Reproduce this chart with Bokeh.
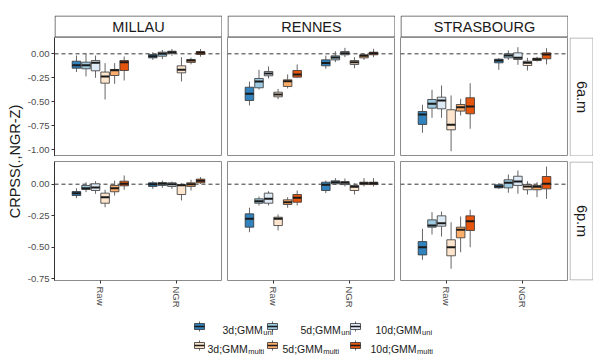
import math
from bokeh.plotting import figure
from bokeh.models import Range1d, FixedTicker, NumeralTickFormatter, Span, Spacer
from bokeh.layouts import row, column
from bokeh.embed import file_html
from bokeh.resources import INLINE
from bokeh.core.properties import value

FONT = "Liberation Sans"

# ---------------- data ----------------
stations = ["MILLAU", "RENNES", "STRASBOURG"]
times = ["6a.m", "6p.m"]
methods = ["Raw", "NGR"]
model_main = ["3d;GMM", "5d;GMM", "10d;GMM", "3d;GMM", "5d;GMM", "10d;GMM"]
model_sub = ["uni", "uni", "uni", "multi", "multi", "multi"]
colors = ["#3182BD", "#9ECAE1", "#DEEBF7", "#FEE6CE", "#FDAE6B", "#E6550D"]

# each list: 6 models for Raw, then 6 models for NGR
millau_am_lower = [-0.19, -0.236, -0.25, -0.476, -0.313, -0.278, -0.063, -0.055, -0.02, -0.288, -0.11, -0.03]
millau_am_q1 = [-0.15, -0.156, -0.177, -0.306, -0.226, -0.174, -0.042, -0.025, 0.006, -0.198, -0.09, -0.007]
millau_am_med = [-0.12, -0.12, -0.094, -0.236, -0.17, -0.087, -0.026, 0.0, 0.017, -0.167, -0.07, 0.01]
millau_am_q3 = [-0.077, -0.087, -0.07, -0.19, -0.163, -0.07, -0.007, 0.017, 0.027, -0.125, -0.059, 0.024]
millau_am_upper = [-0.018, 0.0, -0.018, -0.097, -0.097, -0.028, 0.017, 0.04, 0.05, -0.035, -0.04, 0.05]

rennes_am_lower = [-0.538, -0.372, -0.257, -0.473, -0.361, -0.25, -0.156, -0.087, -0.035, -0.15, -0.063, -0.035]
rennes_am_q1 = [-0.486, -0.354, -0.229, -0.448, -0.34, -0.243, -0.125, -0.063, -0.01, -0.111, -0.042, -0.01]
rennes_am_med = [-0.417, -0.289, -0.205, -0.424, -0.285, -0.215, -0.097, -0.038, 0.006, -0.087, -0.021, 0.006]
rennes_am_q3 = [-0.348, -0.257, -0.184, -0.4, -0.271, -0.174, -0.063, -0.021, 0.024, -0.07, -0.01, 0.017]
rennes_am_upper = [-0.289, -0.167, -0.132, -0.365, -0.215, -0.111, -0.018, 0.027, 0.062, -0.035, 0.006, 0.052]

strasbourg_am_lower = [-0.823, -0.667, -0.667, -1.015, -0.643, -0.781, -0.167, -0.063, -0.115, -0.174, -0.08, -0.111]
strasbourg_am_q1 = [-0.736, -0.566, -0.573, -0.792, -0.597, -0.625, -0.094, -0.042, -0.059, -0.122, -0.07, -0.052]
strasbourg_am_med = [-0.632, -0.521, -0.486, -0.74, -0.556, -0.549, -0.07, -0.018, -0.042, -0.094, -0.056, -0.007]
strasbourg_am_q3 = [-0.601, -0.476, -0.452, -0.583, -0.528, -0.458, -0.056, 0.0, 0.01, -0.077, -0.046, 0.01]
strasbourg_am_upper = [-0.53, -0.375, -0.33, -0.434, -0.469, -0.306, -0.045, 0.035, 0.069, -0.042, -0.031, 0.059]

millau_pm_lower = [-0.111, -0.063, -0.076, -0.183, -0.09, -0.044, -0.037, -0.029, -0.037, -0.129, -0.05, 0.003]
millau_pm_q1 = [-0.09, -0.042, -0.05, -0.151, -0.06, -0.013, -0.018, -0.01, -0.018, -0.082, -0.018, 0.011]
millau_pm_med = [-0.071, -0.032, -0.026, -0.103, -0.032, 0.003, 0.0, 0.003, 0.0, -0.008, 0.0, 0.027]
millau_pm_q3 = [-0.058, -0.01, 0.003, -0.071, -0.01, 0.024, 0.011, 0.013, 0.011, -0.005, 0.011, 0.04]
millau_pm_upper = [-0.032, 0.016, 0.024, -0.044, 0.029, 0.069, 0.024, 0.029, 0.021, 0.008, 0.035, 0.056]

rennes_pm_lower = [-0.381, -0.169, -0.169, -0.367, -0.187, -0.169, -0.071, -0.005, -0.018, -0.082, -0.018, -0.018]
rennes_pm_q1 = [-0.341, -0.151, -0.151, -0.328, -0.161, -0.143, -0.05, 0.003, -0.003, -0.05, -0.003, -0.003]
rennes_pm_med = [-0.275, -0.135, -0.116, -0.275, -0.143, -0.108, -0.005, 0.016, 0.011, -0.021, 0.008, 0.008]
rennes_pm_q3 = [-0.235, -0.116, -0.071, -0.262, -0.124, -0.082, 0.016, 0.027, 0.021, -0.01, 0.016, 0.016]
rennes_pm_upper = [-0.187, -0.098, -0.056, -0.24, -0.103, -0.05, 0.029, 0.048, 0.045, 0.008, 0.048, 0.048]

strasbourg_pm_lower = [-0.6, -0.399, -0.415, -0.671, -0.54, -0.5, -0.037, -0.068, -0.076, -0.082, -0.103, -0.116]
strasbourg_pm_q1 = [-0.561, -0.341, -0.333, -0.568, -0.425, -0.367, -0.029, -0.029, -0.01, -0.044, -0.044, -0.037]
strasbourg_pm_med = [-0.5, -0.328, -0.31, -0.5, -0.362, -0.294, -0.018, 0.011, 0.021, -0.018, -0.021, 0.003]
strasbourg_pm_q3 = [-0.455, -0.283, -0.251, -0.441, -0.341, -0.251, -0.005, 0.035, 0.063, -0.002, -0.01, 0.061]
strasbourg_pm_upper = [-0.354, -0.222, -0.217, -0.302, -0.256, -0.203, 0.008, 0.077, 0.109, 0.024, 0.016, 0.14]

am_ticks = [-1.0, -0.75, -0.5, -0.25, 0.0]
pm_ticks = [-0.75, -0.5, -0.25, 0.0]
am_range = (-1.07, 0.17)
pm_range = (-0.764, 0.18)

panel_data = {
    ("6a.m", "MILLAU"): (millau_am_lower, millau_am_q1, millau_am_med, millau_am_q3, millau_am_upper),
    ("6a.m", "RENNES"): (rennes_am_lower, rennes_am_q1, rennes_am_med, rennes_am_q3, rennes_am_upper),
    ("6a.m", "STRASBOURG"): (strasbourg_am_lower, strasbourg_am_q1, strasbourg_am_med, strasbourg_am_q3, strasbourg_am_upper),
    ("6p.m", "MILLAU"): (millau_pm_lower, millau_pm_q1, millau_pm_med, millau_pm_q3, millau_pm_upper),
    ("6p.m", "RENNES"): (rennes_pm_lower, rennes_pm_q1, rennes_pm_med, rennes_pm_q3, rennes_pm_upper),
    ("6p.m", "STRASBOURG"): (strasbourg_pm_lower, strasbourg_pm_q1, strasbourg_pm_med, strasbourg_pm_q3, strasbourg_pm_upper),
}

# ---------------- style / layout ----------------
DODGE = 0.125
BOXW = 0.112
PANEL_W = 168
PANEL_H = 119
GAP = 5
STRIP_H = 22
TOP_PAD = 15
BOTTOM_AX = 34
LEFT_AX = 30
YLAB_W = 24
RSTRIP_W = 25
OUTLINE = "#8C8C8C"
STRIP_LINE = "#4D4D4D"
TXT = "#1A1A1A"
TICK_TXT = "#4D4D4D"
WHISKER = "#666666"


def base_fig(w, h, **kw):
    p = figure(width=w, height=h, output_backend="svg", toolbar_location=None,
               min_border=0, **kw)
    p.background_fill_color = "white"
    p.border_fill_color = "white"
    p.outline_line_join = "miter"
    return p


def strip(label, w, h, ml=0, mt=0, mb=0, angle=0.0, line=STRIP_LINE):
    fw = w - ml
    fh = h - mt - mb
    # frame measured in pixels so the box border sits crisply inside it
    p = base_fig(w, h, x_range=Range1d(0, fw), y_range=Range1d(0, fh),
                 x_axis_location=None, y_axis_location=None,
                 min_border_left=ml, min_border_top=mt, min_border_bottom=mb)
    p.grid.visible = False
    p.outline_line_color = None
    p.quad(left=[0.5], right=[fw - 0.5], bottom=[0.5], top=[fh - 0.5],
           fill_color="white", line_color=line, line_width=1, line_join="miter")
    p.text(x=[fw / 2], y=[fh / 2], text=[label], angle=angle, text_align="center",
           text_baseline="middle", text_font=value(FONT), text_font_size="14.5px",
           text_color=TXT)
    return p


def panel(t, s, w, h, left_axis, bottom_axis, ml, mt, mb):
    lower, q1, med, q3, upper = panel_data[(t, s)]
    yr = am_range if t == "6a.m" else pm_range
    p = base_fig(w, h, x_range=Range1d(0.4, 2.6), y_range=Range1d(*yr),
                 x_axis_location="below" if bottom_axis else None,
                 y_axis_location="left" if left_axis else None,
                 min_border_left=ml, min_border_top=mt, min_border_bottom=mb)
    p.grid.visible = False
    p.outline_line_color = OUTLINE
    p.outline_line_width = 1

    xs = [mi + (k - 2.5) * DODGE for mi in (1, 2) for k in range(6)]
    cols = colors * 2
    p.add_layout(Span(location=0, dimension="width", line_color="#333333",
                      line_dash="4 3", line_width=1, level="underlay"))
    p.segment(x0=xs, y0=q3, x1=xs, y1=upper, line_color=WHISKER, line_width=1)
    p.segment(x0=xs, y0=q1, x1=xs, y1=lower, line_color=WHISKER, line_width=1)
    p.vbar(x=xs, width=BOXW, top=q3, bottom=q1, fill_color=cols,
           line_color="#333333", line_width=0.8)
    p.segment(x0=[x - BOXW / 2 for x in xs], y0=med, x1=[x + BOXW / 2 for x in xs],
              y1=med, line_color="#1A1A1A", line_width=2)

    if left_axis:
        ax = p.yaxis[0]
        ax.ticker = FixedTicker(ticks=am_ticks if t == "6a.m" else pm_ticks)
        ax.formatter = NumeralTickFormatter(format="0.00")
        ax.axis_line_color = "#333333"
        ax.major_tick_line_color = "#333333"
        ax.major_tick_out = 3
        ax.major_tick_in = 0
        ax.minor_tick_line_color = None
        ax.major_label_standoff = 2
        ax.major_label_text_font = FONT
        ax.major_label_text_font_size = "9.5px"
        ax.major_label_text_color = TICK_TXT
    if bottom_axis:
        ax = p.xaxis[0]
        ax.ticker = FixedTicker(ticks=[1, 2])
        ax.major_label_overrides = {1: methods[0], 2: methods[1]}
        ax.major_label_orientation = -math.pi / 2
        ax.axis_line_color = None
        ax.major_tick_line_color = "#333333"
        ax.major_tick_out = 3
        ax.major_tick_in = 0
        ax.minor_tick_line_color = None
        ax.major_label_standoff = 3
        ax.major_label_text_font = FONT
        ax.major_label_text_font_size = "9.5px"
        ax.major_label_text_color = TICK_TXT
    return p


cols_layout = []
for i, s in enumerate(stations):
    ml = LEFT_AX if i == 0 else GAP
    w = ml + PANEL_W
    top_strip = strip(s, w, TOP_PAD + STRIP_H, ml=ml, mt=TOP_PAD)
    p_top = panel("6a.m", s, w, PANEL_H, i == 0, False, ml, 0, 0)
    p_bot = panel("6p.m", s, w, GAP + PANEL_H + BOTTOM_AX, i == 0, True, ml, GAP, BOTTOM_AX)
    cols_layout.append(column(top_strip, p_top, p_bot, spacing=0))

right_col = column(
    Spacer(width=RSTRIP_W, height=TOP_PAD + STRIP_H),
    strip(times[0], RSTRIP_W, PANEL_H, ml=1, angle=-math.pi / 2, line="#A6A6A6"),
    strip(times[1], RSTRIP_W, GAP + PANEL_H + BOTTOM_AX, ml=1, mt=GAP, mb=BOTTOM_AX,
          angle=-math.pi / 2, line="#A6A6A6"),
    spacing=0)

total_h = TOP_PAD + STRIP_H + PANEL_H + GAP + PANEL_H + BOTTOM_AX
ylab = base_fig(YLAB_W, total_h, x_range=Range1d(0, YLAB_W), y_range=Range1d(total_h, 0),
                x_axis_location=None, y_axis_location=None)
ylab.grid.visible = False
ylab.outline_line_color = None
ylab.text(x=[14.5], y=[161], text=["CRPSS(.,NGR-Z)"], angle=math.pi / 2,
          text_align="center", text_baseline="middle", text_font=value(FONT),
          text_font_size="14.5px", text_color=TXT)

top = row(ylab, *cols_layout, right_col, spacing=0)

# ---------------- legend ----------------
LEG_W = YLAB_W + LEFT_AX + PANEL_W + 2 * (GAP + PANEL_W) + RSTRIP_W
LEG_H = 48
leg = base_fig(LEG_W, LEG_H, x_range=Range1d(0, LEG_W),
               y_range=Range1d(total_h + LEG_H, total_h),
               x_axis_location=None, y_axis_location=None)
leg.grid.visible = False
leg.outline_line_color = None

ARIAL = {"0": 0.556, "1": 0.556, "3": 0.556, "5": 0.556, "d": 0.556, ";": 0.278,
         "G": 0.778, "M": 0.833}
key_x = [199, 272, 355, 199, 272, 355]
key_y = [326, 326, 326, 345, 345, 345]
text_x = [222, 300, 375, 207, 282, 370]
LFS = 10.5
SFS = 7.5
kw, kh = 10, 6
leg.segment(x0=key_x, y0=[y - 5 for y in key_y], x1=key_x, y1=[y + 5 for y in key_y],
            line_color=WHISKER, line_width=1)
leg.rect(x=key_x, y=key_y, width=kw, height=kh, fill_color=colors,
         line_color="#333333", line_width=0.8)
leg.segment(x0=[x - kw / 2 for x in key_x], y0=key_y, x1=[x + kw / 2 for x in key_x],
            y1=key_y, line_color="#1A1A1A", line_width=1.5)
leg.text(x=text_x, y=[y + 3.8 for y in key_y], text=model_main, text_align="left",
         text_baseline="alphabetic", text_font=value(FONT),
         text_font_size=f"{LFS}px", text_color=TXT)
sub_x = [tx + sum(ARIAL[c] for c in m) * LFS + 0.5 for tx, m in zip(text_x, model_main)]
leg.text(x=sub_x, y=[y + 6.0 for y in key_y], text=model_sub, text_align="left",
         text_baseline="alphabetic", text_font=value(FONT),
         text_font_size=f"{SFS}px", text_color=TXT)

layout = column(top, leg, spacing=0)
open("out.html", "w").write(file_html(layout, INLINE))
